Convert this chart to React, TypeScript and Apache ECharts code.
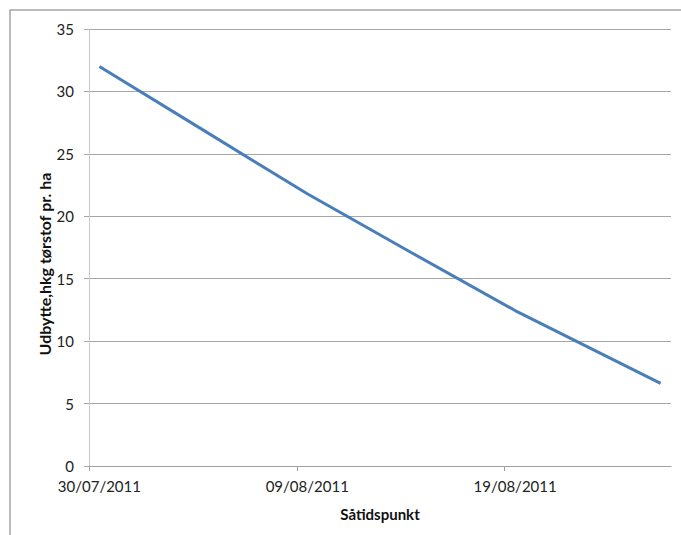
import React, { useEffect, useRef } from "react";
import * as echarts from "echarts";

// ---- data ----
const baseDate = "30/07/2011";
const axisSpanDays = 28;
const sowingDates = ["30/07/2011", "04/08/2011", "09/08/2011", "14/08/2011", "19/08/2011", "26/08/2011"];
const yieldValues = [32.0, 26.9, 21.8, 17.1, 12.45, 6.62];
const xTickDays = [0, 10, 20];
const yMin = 0;
const yMax = 35;
const yInterval = 5;
const xTitle = "Såtidspunkt";
const yTitle = "Udbytte,hkg tørstof pr. ha";

const DAY = 86400000;
function parseDate(s: string): number {
  const [d, m, y] = s.split("/").map(Number);
  return Date.UTC(y, m - 1, d);
}
function pad(n: number): string {
  return n < 10 ? "0" + n : String(n);
}
function fmtDate(ms: number): string {
  const dt = new Date(ms);
  return pad(dt.getUTCDate()) + "/" + pad(dt.getUTCMonth() + 1) + "/" + dt.getUTCFullYear();
}

const FONT = "Lato, 'Open Sans', sans-serif";

export default function App() {
  const ref = useRef<HTMLDivElement>(null);
  useEffect(() => {
    if (!ref.current) return;
    const chart = echarts.init(ref.current, undefined, { renderer: "svg" });
    const base = parseDate(baseDate);
    const seriesData = sowingDates.map((s, i) => [(parseDate(s) - base) / DAY + 0.5, yieldValues[i]]);
    chart.setOption({
      animation: false,
      backgroundColor: "#ffffff",
      textStyle: { fontFamily: FONT },
      grid: { left: 89, right: 10, top: 29, bottom: 69, containLabel: false, outerBoundsMode: "none" },
      graphic: [
        {
          type: "rect",
          shape: { x: 10, y: 10, width: 720, height: 600 },
          style: { fill: "none", stroke: "#a6a6a6", lineWidth: 1.5 },
          silent: true,
        },
        {
          type: "text",
          x: 44,
          y: 264,
          rotation: Math.PI / 2,
          silent: true,
          style: {
            text: yTitle,
            fontFamily: FONT,
            fontSize: 16,
            fontWeight: "bold",
            fill: "#111",
            align: "center",
            verticalAlign: "middle",
          },
        },
      ],
      xAxis: {
        type: "value",
        min: 0,
        max: axisSpanDays,
        name: xTitle,
        nameLocation: "middle",
        nameGap: 40,
        nameTextStyle: { fontFamily: FONT, fontSize: 15, fontWeight: "bold", color: "#111" },
        axisLine: { show: true, lineStyle: { color: "#a0a0a0", width: 1 } },
        axisTick: { show: true, length: 5, customValues: xTickDays, lineStyle: { color: "#a0a0a0" } },
        axisLabel: {
          customValues: xTickDays.map((d) => d + 0.5),
          margin: 12,
          fontFamily: FONT,
          fontSize: 15,
          color: "#222",
          formatter: (v: number) => fmtDate(base + Math.floor(v) * DAY),
        },
        splitLine: { show: false },
      },
      yAxis: {
        type: "value",
        min: yMin,
        max: yMax,
        interval: yInterval,
        axisLine: { show: true, lineStyle: { color: "#c8c8c8", width: 1 } },
        axisTick: { show: true, length: 5, lineStyle: { color: "#a6a6a6" } },
        axisLabel: { margin: 15, fontFamily: FONT, fontSize: 15, color: "#222" },
        splitLine: { show: true, lineStyle: { color: "#a6a6a6", width: 1 } },
      },
      series: [
        {
          type: "line",
          data: seriesData,
          showSymbol: false,
          symbol: "none",
          lineStyle: { color: "#4a7ebb", width: 3 },
          itemStyle: { color: "#4a7ebb" },
        },
      ],
    });
    return () => chart.dispose();
  }, []);
  return <div ref={ref} style={{ position: "absolute", left: 0, top: 0, width: 681, height: 535 }} />;
}
